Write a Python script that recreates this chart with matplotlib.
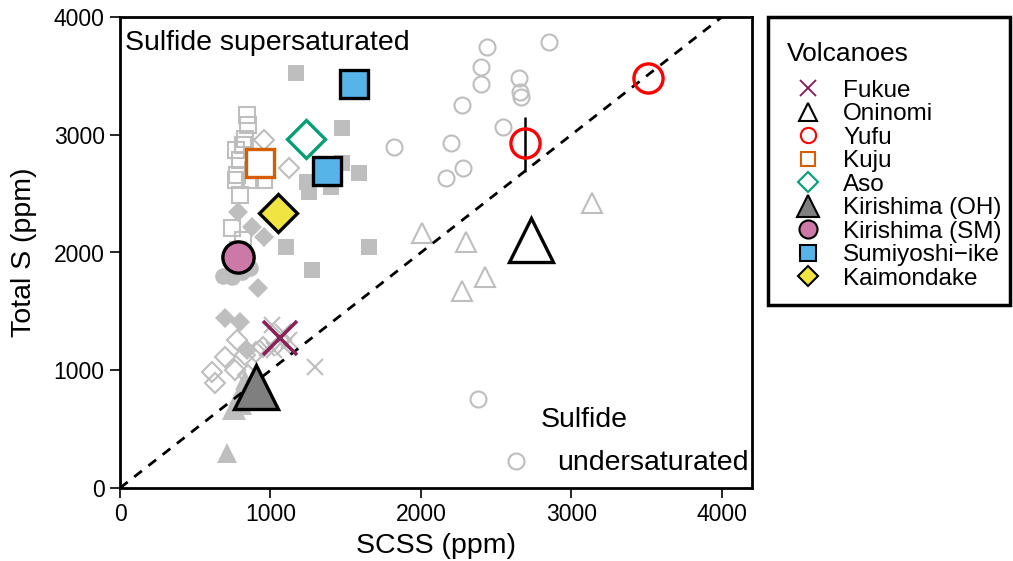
import matplotlib
matplotlib.use("Agg")
import matplotlib.pyplot as plt
from matplotlib.lines import Line2D
from matplotlib.patches import Rectangle

plt.rcParams['font.family'] = ['Liberation Sans', 'DejaVu Sans']

# ---------------- data (ppm) ----------------
# grey background analyses: SCSS (x) and Total S (y)
fukue_x = [1007, 1086, 1026, 980, 1093, 1126, 1298]
fukue_y = [1384, 1325, 1172, 1189, 1197, 1257, 1028]

oninomi_x = [2007, 2298, 3139, 2424, 2272]
oninomi_y = [2166, 2089, 2420, 1792, 1673]

yufu_x = [2437, 2397, 2397, 2272, 2649, 2656, 2662, 2543, 2199, 2278, 2166, 2854, 1821, 2377, 2629]
yufu_y = [3745, 3575, 3431, 3253, 3482, 3363, 3321, 3066, 2930, 2718, 2633, 3788, 2896, 756, 229]

kuju_x = [841, 848, 815, 768, 795, 768, 861, 960, 795, 742, 815, 781, 881, 830, 780]
kuju_y = [3168, 3083, 2913, 2870, 2786, 2616, 2616, 2616, 2488, 2208, 2106, 2021, 2700, 2960, 2660]

aso_x = [960, 1126, 775, 695, 828, 629, 609, 762, 848, 947, 907]
aso_y = [2955, 2718, 1257, 1112, 1130, 892, 985, 1002, 960, 1197, 1155]

kiroh_x = [709, 768, 808, 828, 788, 742]
kiroh_y = [297, 662, 705, 917, 790, 662]

kirsm_x = [682, 742, 808, 861]
kirsm_y = [1800, 1792, 1834, 1868]

sumi_x = [1172, 1477, 1477, 1589, 1245, 1258, 1404, 1106, 1656, 1278]
sumi_y = [3524, 3057, 2760, 2675, 2599, 2514, 2556, 2046, 2046, 1851]

kaim_x = [781, 874, 960, 914, 695, 795, 841]
kaim_y = [2344, 2217, 2132, 1699, 1444, 1410, 1172]

# volcano averages (highlighted)
avg_names = ["Fukue", "Oninomi", "Yufu", "Kuju", "Aso", "Kirishima (OH)",
             "Kirishima (SM)", "Sumiyoshi\u2212ike", "Kaimondake"]
fukue_avg = (1063, 1274)
oninomi_avg = (2731, 2106)
yufu_avg_x = [3508, 2691]
yufu_avg_y = [3482, 2930]
yufu_err_lo = [0, 247]
yufu_err_hi = [0, 220]
kuju_avg = (930, 2760)
aso_avg = (1236, 2964)
kiroh_avg = (904, 860)
kirsm_avg = (784, 1962)
sumi_avg_x = [1555, 1375]
sumi_avg_y = [3431, 2692]
kaim_avg = (1050, 2335)

x_ticks = [0, 1000, 2000, 3000, 4000]
y_ticks = [0, 1000, 2000, 3000, 4000]

# ---------------- styles ----------------
GREY = "#BEBEBE"
C_FUKUE = "#8B2257"
C_YUFU = "#FF0000"
C_KUJU = "#D55E00"
C_ASO = "#009E73"
C_KIROH = "#7F7F7F"
C_KIRSM = "#CC79A7"
C_SUMI = "#56B4E9"
C_KAIM = "#F0E442"

fig = plt.figure(figsize=(10.13, 5.61), dpi=100)
ax = fig.add_axes([120 / 1013, 73 / 561, 632 / 1013, 471 / 561])

gmew = 1.5
ax.plot(fukue_x, fukue_y, ls="none", marker="x", ms=11, mew=gmew, color=GREY, zorder=2)
ax.plot(oninomi_x, oninomi_y, ls="none", marker="^", ms=15, mew=gmew, mfc="none", mec=GREY, zorder=2)
ax.plot(yufu_x, yufu_y, ls="none", marker="o", ms=11.5, mew=gmew, mfc="none", mec=GREY, zorder=2)
ax.plot(kuju_x, kuju_y, ls="none", marker="s", ms=12, mew=gmew, mfc="none", mec=GREY, zorder=2)
ax.plot(aso_x, aso_y, ls="none", marker="D", ms=10.5, mew=gmew, mfc="none", mec=GREY, zorder=2)
ax.plot(kiroh_x, kiroh_y, ls="none", marker="^", ms=15, mew=0, color=GREY, zorder=2)
ax.plot(kirsm_x, kirsm_y, ls="none", marker="o", ms=12, mew=0, color=GREY, zorder=2)
ax.plot(sumi_x, sumi_y, ls="none", marker="s", ms=11.5, mew=0, color=GREY, zorder=2)
ax.plot(kaim_x, kaim_y, ls="none", marker="D", ms=10.5, mew=0, color=GREY, zorder=2)

# 1:1 line
ax.plot([0, 4200], [0, 4200], ls=(0, (3.5, 3)), color="black", lw=2, zorder=3)

# averages
bmew = 2.4
ax.errorbar(yufu_avg_x, yufu_avg_y, yerr=[yufu_err_lo, yufu_err_hi], fmt="none",
            ecolor="black", elinewidth=1.8, capsize=0, zorder=4)
ax.plot(*fukue_avg, marker="x", ms=24, mew=2.6, color=C_FUKUE, zorder=5)
ax.plot(*oninomi_avg, marker="^", ms=32, mew=bmew, mfc="white", mec="black", zorder=5)
ax.plot(yufu_avg_x, yufu_avg_y, ls="none", marker="o", ms=21, mew=bmew, mfc="none", mec=C_YUFU, zorder=5)
ax.plot(*kuju_avg, marker="s", ms=20.5, mew=bmew, mfc="white", mec=C_KUJU, zorder=5)
ax.plot(*aso_avg, marker="D", ms=19, mew=bmew, mfc="white", mec=C_ASO, zorder=5)
ax.plot(*kiroh_avg, marker="^", ms=32, mew=bmew, mfc=C_KIROH, mec="black", zorder=5)
ax.plot(*kirsm_avg, marker="o", ms=22.5, mew=bmew, mfc=C_KIRSM, mec="black", zorder=5)
ax.plot(sumi_avg_x, sumi_avg_y, ls="none", marker="s", ms=20.5, mew=bmew, mfc=C_SUMI, mec="black", zorder=5)
ax.plot(*kaim_avg, marker="D", ms=19, mew=bmew, mfc=C_KAIM, mec="black", zorder=5)

ax.set_xlim(0, 4200)
ax.set_ylim(0, 4000)
ax.set_xticks(x_ticks)
ax.set_yticks(y_ticks)
ax.tick_params(direction="out", length=7, width=1.2, labelsize=16.5, colors="black", pad=4)
for s in ax.spines.values():
    s.set_linewidth(2)
ax.set_xlabel("SCSS (ppm)", fontsize=20.5, labelpad=5)
ax.set_ylabel("Total S (ppm)", fontsize=20.5, labelpad=12)

ax.text(0.008, 0.945, "Sulfide supersaturated", transform=ax.transAxes, fontsize=20.5,
        ha="left", va="center")
ax.text(0.666, 0.144, "Sulfide", transform=ax.transAxes, fontsize=20.5, ha="left", va="center")
ax.text(0.691, 0.053, "undersaturated", transform=ax.transAxes, fontsize=20.5, ha="left", va="center")

# legend
handles = [
    Line2D([], [], ls="none", marker="x", ms=12, mew=1.4, color=C_FUKUE),
    Line2D([], [], ls="none", marker="^", ms=13, mew=1.5, mfc="white", mec="black"),
    Line2D([], [], ls="none", marker="o", ms=11, mew=1.5, mfc="white", mec=C_YUFU),
    Line2D([], [], ls="none", marker="s", ms=10.5, mew=1.5, mfc="white", mec=C_KUJU),
    Line2D([], [], ls="none", marker="D", ms=10, mew=1.5, mfc="white", mec=C_ASO),
    Line2D([], [], ls="none", marker="^", ms=16, mew=1.5, mfc=C_KIROH, mec="black"),
    Line2D([], [], ls="none", marker="o", ms=13, mew=1.5, mfc=C_KIRSM, mec="black"),
    Line2D([], [], ls="none", marker="s", ms=12, mew=1.5, mfc=C_SUMI, mec="black"),
    Line2D([], [], ls="none", marker="D", ms=10.5, mew=1.5, mfc=C_KAIM, mec="black"),
]
leg = ax.legend(handles, avg_names, loc="upper left",
                bbox_to_anchor=(787 / 1013, 1 - 42 / 561), bbox_transform=fig.transFigure,
                title="Volcanoes", alignment="left", fontsize=17.5, title_fontsize=19,
                frameon=False, borderpad=0, labelspacing=0.06, handletextpad=0.58,
                handlelength=1.73, borderaxespad=0)
leg._legend_box.sep = 10
fig.add_artist(Rectangle((768 / 1013, 1 - 305 / 561), 242 / 1013, 288 / 561,
                         transform=fig.transFigure, fill=False, lw=2.5, ec="black"))

fig.savefig("out.png", dpi=100)
